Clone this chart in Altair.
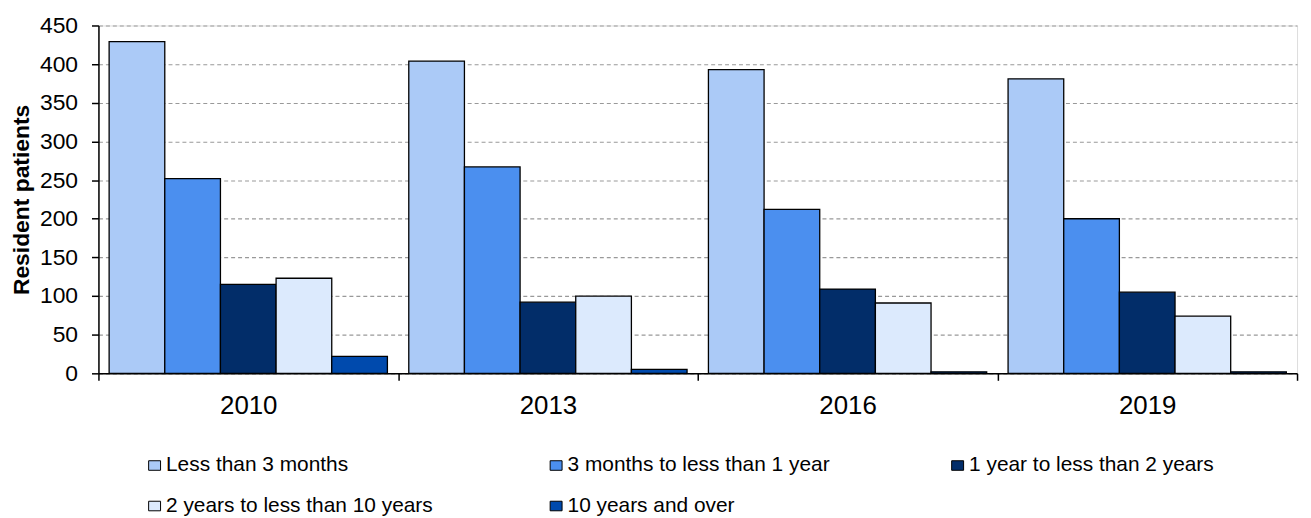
import altair as alt
import pandas as pd

years = ["2010", "2013", "2016", "2019"]
categories = [
    "Less than 3 months",
    "3 months to less than 1 year",
    "1 year to less than 2 years",
    "2 years to less than 10 years",
    "10 years and over",
]
less_3m = [429, 404, 393, 381]
m3_to_1y = [252, 267, 212, 200]
y1_to_2y = [115, 92, 109, 105]
y2_to_10y = [123, 100, 91, 74]
y10_over = [22, 5, 2, 2]
colors = ["#abcaf7", "#4b8fef", "#022d69", "#dceafd", "#004aad"]

series = [less_3m, m3_to_1y, y1_to_2y, y2_to_10y, y10_over]
rows = []
for cat, vals in zip(categories, series):
    for yr, v in zip(years, vals):
        rows.append({"year": yr, "category": cat, "value": v})
df = pd.DataFrame(rows)

FONT = "Liberation Sans"

chart = alt.Chart(df).mark_bar(stroke="black", strokeWidth=1.3).encode(
    x=alt.X(
        "year:N",
        sort=years,
        title=None,
        scale=alt.Scale(paddingInner=0, paddingOuter=0),
        axis=alt.Axis(
            labelAngle=0,
            labelFontSize=26,
            labelFont=FONT,
            labelColor="black",
            labelPadding=12,
            tickBand="extent",
            tickSize=7,
            tickColor="black",
            tickWidth=1.5,
            domainColor="black",
            domainWidth=1.5,
            grid=False,
        ),
    ),
    xOffset=alt.XOffset(
        "category:N",
        sort=categories,
        scale=alt.Scale(paddingInner=0, paddingOuter=0.192),
    ),
    y=alt.Y(
        "value:Q",
        title="Resident patients",
        scale=alt.Scale(domain=[0, 450], nice=False),
        axis=alt.Axis(
            values=list(range(0, 451, 50)),
            labelFontSize=23,
            labelFont=FONT,
            labelColor="black",
            labelPadding=14,
            tickSize=7,
            tickColor="black",
            tickWidth=1.5,
            domainColor="black",
            domainWidth=1.5,
            grid=True,
            gridColor="#999999",
            gridDash=[4, 3],
            gridWidth=1.2,
            titleFont=FONT,
            titleFontSize=23,
            titleFontWeight="bold",
            titleColor="black",
            titlePadding=6,
        ),
    ),
    color=alt.Color(
        "category:N",
        sort=categories,
        scale=alt.Scale(domain=categories, range=colors),
        legend=alt.Legend(
            title=None,
            orient="none",
            legendX=46,
            legendY=432,
            direction="horizontal",
            columns=3,
            gridAlign="all",
            columnPadding=113,
            rowPadding=19,
            labelFont=FONT,
            labelFontSize=21,
            labelColor="black",
            labelLimit=400,
            labelOffset=1,
            symbolType="M-1,-0.8H1V0.8H-1Z",
            symbolSize=144,
            symbolStrokeColor="black",
            symbolStrokeWidth=1,
            symbolOpacity=1,
        ),
    ),
).properties(
    width=1206,
    height=350,
    autosize=alt.AutoSizeParams(type="none"),
    padding={"left": 91, "top": 16, "right": 6, "bottom": 150},
).configure_view(
    stroke="black",
    strokeWidth=1.5,
).configure(background="white")

chart.save("out.html", embed_options={"renderer": "svg", "actions": False})
